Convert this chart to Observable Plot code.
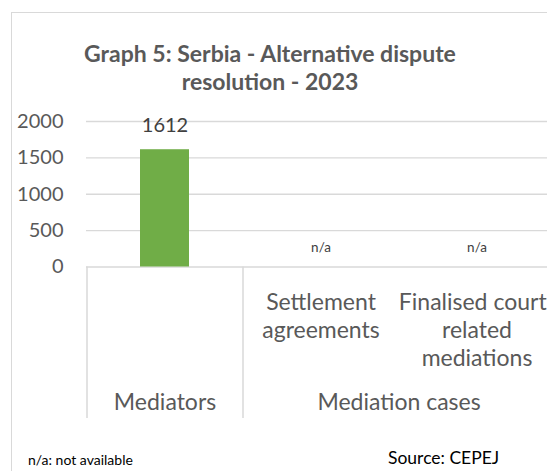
<!DOCTYPE html>
<html>
<head>
<meta charset="utf-8">
<script src="https://cdn.jsdelivr.net/npm/d3@7"></script>
<script src="https://cdn.jsdelivr.net/npm/@observablehq/plot@0.6"></script>
<style>
  html, body { margin: 0; padding: 0; background: #fff; }
  body { width: 547px; height: 471px; position: relative; overflow: hidden; font-family: Lato, "Open Sans", sans-serif; }
  #frame { position: absolute; left: 11px; top: 12px; width: 600px; height: 500px; border-top: 1.5px solid #d9d9d9; border-left: 1.5px solid #d9d9d9; }
  #title { position: absolute; left: 0; top: 39px; width: 540px; text-align: center; font-weight: bold; font-size: 23px; line-height: 28px; color: #595959; }
  #chart { position: absolute; left: 0; top: 100px; }
  #note { position: absolute; left: 28px; top: 452px; font-size: 14px; line-height: 1.2; color: #000; }
  #source { position: absolute; left: 388px; top: 447px; font-size: 17.5px; line-height: 1.2; color: #000; }
</style>
</head>
<body>
<div id="frame"></div>
<div id="title">Graph 5: Serbia - Alternative dispute<br>resolution - 2023</div>
<div id="chart"></div>
<div id="note">n/a: not available</div>
<div id="source">Source: CEPEJ</div>
<script>
const categories = ["Mediators", "Settlement agreements", "Finalised court-related mediations"];
const categoryLines = ["Mediators", "Settlement\nagreements", "Finalised court-\nrelated\nmediations"];
const groups = ["Mediators", "Mediation cases", "Mediation cases"];
const values = [1612, null, null];
const yTicks = [0, 500, 1000, 1500, 2000];

const data = categories.map((c, i) => ({category: c, lines: categoryLines[i], group: groups[i], value: values[i]}));

// top-level group spans
const groupNames = [...new Set(groups)];
const groupData = groupNames.map(g => {
  const idx = groups.map((x, i) => x === g ? i : -1).filter(i => i >= 0);
  return {group: g, first: categories[idx[0]], n: idx.length};
});

const xRange = [86, 554];
const step = (xRange[1] - xRange[0]) / categories.length;
const grey = "#595959";
const gridColor = "#d9d9d9";
const font = "Lato, 'Open Sans', sans-serif";

const chart = Plot.plot({
  width: 547,
  height: 318,
  marginLeft: 86,
  marginRight: 0,
  marginTop: 166.5,
  marginBottom: 0,
  style: {fontFamily: font, background: "transparent"},
  x: {type: "band", domain: categories, range: xRange, paddingInner: 0.686, paddingOuter: 0.343, align: 0.5, axis: null},
  y: {domain: [0, 2000], range: [166.5, 21], axis: null},
  marks: [
    Plot.ruleY(yTicks.filter(t => t > 0), {stroke: gridColor, strokeWidth: 1.3}),
    Plot.ruleY([0], {stroke: gridColor, strokeWidth: 1.5}),
    Plot.axisY({ticks: yTicks, tickSize: 0, tickPadding: 23, fontSize: 20, fill: grey, tickFormat: d => String(d), anchor: "left", label: null}),
    Plot.barY(data.filter(d => d.value != null), {x: "category", y: "value", fill: "#70ad47"}),
    Plot.text(data.filter(d => d.value != null), {x: "category", y: "value", text: d => String(d.value), dy: -24.5, fontSize: 20, fill: "#404040"}),
    Plot.text(data.filter(d => d.value == null), {x: "category", y: () => 0, text: () => "n/a", dy: -19.5, fontSize: 13.5, fill: "#404040"}),
    // separators between top-level groups
    Plot.ruleX(groupData, {x: "first", dx: -step / 2, stroke: gridColor, strokeWidth: 1.5}),
    // inner category labels
    Plot.text(data.filter(d => d.group !== d.category), {x: "category", frameAnchor: "top", lineAnchor: "top", text: "lines", dy: 23, fontSize: 23, lineHeight: 1.217, fill: grey}),
    // group labels, centred on their span
    ...groupData.map(g => Plot.text([g], {x: "first", frameAnchor: "top", lineAnchor: "top", text: "group", dx: (g.n - 1) * step / 2, dy: 127, fontSize: 23, fill: grey}))
  ]
});
document.getElementById("chart").appendChild(chart);
</script>
</body>
</html>
